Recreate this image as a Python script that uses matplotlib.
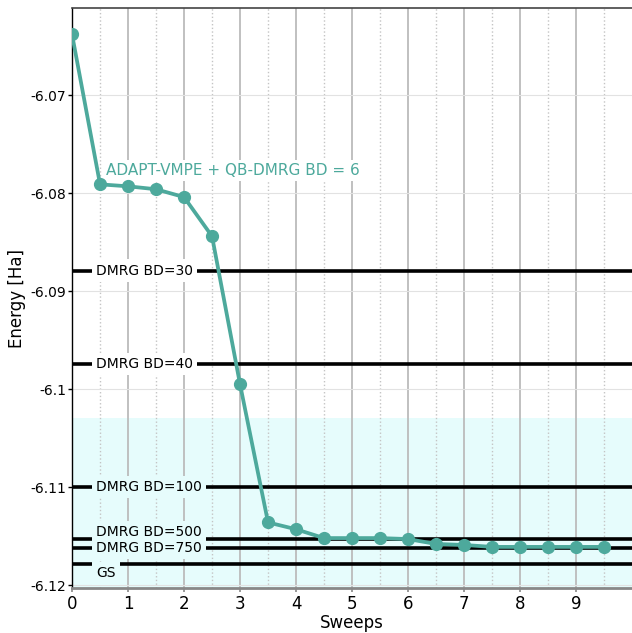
import numpy as np
import matplotlib
matplotlib.use("Agg")
import matplotlib.pyplot as plt

# ---- data ----
sweeps = [0, 0.5, 1, 1.5, 2, 2.5, 3, 3.5, 4, 4.5, 5, 5.5, 6, 6.5, 7, 7.5, 8, 8.5, 9, 9.5]
energy = [-6.0638, -6.0791, -6.0793, -6.0796, -6.0804, -6.0844, -6.0995, -6.1136,
          -6.1143, -6.1152, -6.1152, -6.1152, -6.1153, -6.1158, -6.1159, -6.1161,
          -6.1161, -6.1161, -6.1161, -6.1161]

ref_labels = ["DMRG BD=30", "DMRG BD=40", "DMRG BD=100", "DMRG BD=500", "DMRG BD=750", "GS"]
ref_energy = [-6.0879, -6.0974, -6.1100, -6.1153, -6.1162, -6.1178]
# label vertical offsets (data units) relative to each line
ref_label_dy = [0.0, 0.0, 0.0, 0.0007, 0.0, -0.0010]

shade_range = (-6.1029, -6.1203)

yticks = [-6.07, -6.08, -6.09, -6.10, -6.11, -6.12]
ytick_labels = ["-6.07", "-6.08", "-6.09", "-6.1", "-6.11", "-6.12"]
xticks = list(range(0, 10))

teal = "#4da99c"
shade = "#e6fcfc"

fig = plt.figure(figsize=(6.32, 6.33), dpi=100)
ax = fig.add_axes([0.114, 0.071, 0.886, 0.9164])

ax.set_xlim(0, 10)
ax.set_ylim(-6.1203, -6.0611)

# shaded region
ax.axhspan(shade_range[1], shade_range[0], color=shade, zorder=0, lw=0)

# grids
ax.set_xticks(xticks)
ax.set_xticks(np.arange(0.5, 10, 1.0), minor=True)
ax.set_yticks(yticks)
ax.set_yticklabels(ytick_labels, fontsize=10)
ax.set_xticklabels([str(t) for t in xticks], fontsize=12)
ax.grid(axis="x", which="major", color="#bbbbbb", lw=1.3, zorder=1)
ax.grid(axis="x", which="minor", color="#c4c4c4", lw=1.0, ls=":", zorder=1)
ax.grid(axis="y", which="major", color="#e2e2e2", lw=0.8, zorder=1)
ax.set_axisbelow(True)

# reference lines with inline labels
for lab, e, dy in zip(ref_labels, ref_energy, ref_label_dy):
    ax.axhline(e, color="black", lw=2.6, zorder=2)
    inside = shade_range[1] <= e <= shade_range[0]
    ax.text(0.43, e + dy, lab, fontsize=10, color="black", ha="left", va="center",
            zorder=3,
            bbox=dict(facecolor=shade if inside else "white", edgecolor="none", pad=3))

# main curve
ax.plot(sweeps, energy, color=teal, lw=2.7, marker="o", ms=8.5, zorder=4)
ax.text(0.61, -6.0777, "ADAPT-VMPE + QB-DMRG BD = 6", color=teal, fontsize=11,
        ha="left", va="center", zorder=3,
        bbox=dict(facecolor="white", edgecolor="none", pad=2))

ax.set_xlabel("Sweeps", fontsize=12, labelpad=1)
ax.set_ylabel("Energy [Ha]", fontsize=12, labelpad=3)

ax.spines["right"].set_visible(False)
ax.spines["left"].set_color("black")
ax.spines["left"].set_linewidth(1.0)
ax.spines["top"].set_color("#444444")
ax.spines["top"].set_linewidth(1.2)
ax.spines["bottom"].set_color("#888888")
ax.spines["bottom"].set_linewidth(2.0)
ax.tick_params(axis="x", which="major", colors="#888888", labelcolor="black", length=3, width=1.2, pad=2)
ax.tick_params(axis="x", which="minor", length=0)
ax.tick_params(axis="y", length=3, width=1, pad=1)

fig.savefig("out.png", dpi=100)
